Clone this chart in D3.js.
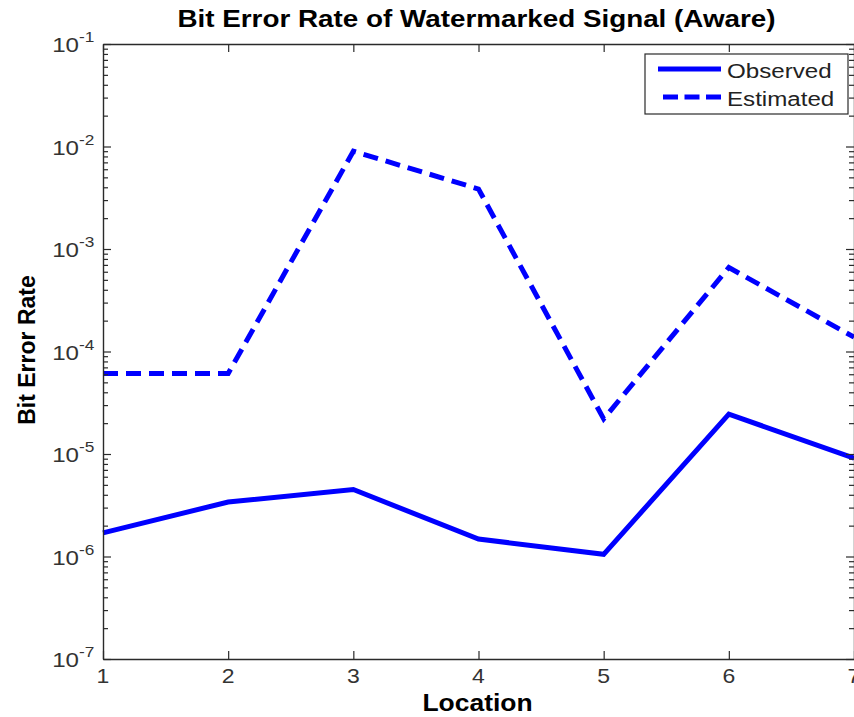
<!DOCTYPE html>
<html>
<head>
<meta charset="utf-8">
<script src="https://cdn.jsdelivr.net/npm/d3@7"></script>
<style>
  html, body { margin: 0; padding: 0; background: #fff; }
  svg { display: block; }
  text { font-family: "Liberation Sans", Arial, Helvetica, sans-serif; }
</style>
</head>
<body>
<svg id="chart" width="854" height="717"></svg>
<script>
// Bit error rate per measurement location
const locations = [1, 2, 3, 4, 5, 6, 7];
const observed  = [1.7e-6, 3.4e-6, 4.5e-6, 1.48e-6, 1.05e-6, 2.45e-5, 9.1e-6];
const estimated = [6.1e-5, 6.1e-5, 9.0e-3, 3.85e-3, 2.2e-5, 6.6e-4, 1.38e-4];

// Axis ticks
const xTicks = [1, 2, 3, 4, 5, 6, 7];
const yExponents = [-7, -6, -5, -4, -3, -2, -1];
const minorMultipliers = [2, 3, 4, 5, 6, 7, 8, 9];

const titleText = "Bit Error Rate of Watermarked Signal (Aware)";
const xLabelText = "Location";
const yLabelText = "Bit Error Rate";
const seriesNames = ["Observed", "Estimated"];

const svg = d3.select("#chart");
const W = 854, H = 717;
const plot = { left: 103, right: 854, top: 44, bottom: 659 };
const axisColor = "#2a2a2a";
const lineColor = "#0000ff";
const stretch = 1.15; // horizontal glyph stretch of the typeface

const x = d3.scaleLinear().domain([1, 7]).range([plot.left, plot.right]);
const y = d3.scaleLog().domain([1e-7, 1e-1]).range([plot.bottom, plot.top]);

svg.append("rect").attr("width", W).attr("height", H).attr("fill", "#fff");

// helper for horizontally stretched text
function label(g, str, px, py, opts) {
  const t = g.append("text")
    .attr("transform", `translate(${px},${py}) scale(${opts.stretch || stretch},1)`)
    .attr("text-anchor", opts.anchor || "middle")
    .attr("font-size", opts.size)
    .attr("font-weight", opts.weight || "normal")
    .attr("fill", opts.color || "#000")
    .text(str);
  return t;
}

// data lines
const lineGen = d3.line()
  .x((d, i) => x(locations[i]))
  .y(d => y(d));

svg.append("path")
  .datum(observed)
  .attr("d", lineGen)
  .attr("fill", "none")
  .attr("stroke", lineColor)
  .attr("stroke-width", 5);

svg.append("path")
  .datum(estimated)
  .attr("d", lineGen)
  .attr("fill", "none")
  .attr("stroke", lineColor)
  .attr("stroke-width", 5)
  .attr("stroke-dasharray", "15,8");

// axes (ticks point inward, all four sides)
const minorValues = [];
yExponents.slice(0, -1).forEach(e => minorMultipliers.forEach(m => minorValues.push(m * Math.pow(10, e))));
const decadeValues = yExponents.map(e => Math.pow(10, e));

function styleAxis(g) {
  g.selectAll("path.domain").attr("stroke", axisColor).attr("stroke-width", 1.4);
  g.selectAll(".tick line").attr("stroke", axisColor).attr("stroke-width", 1.2);
  g.selectAll(".tick text").remove();
}

svg.append("g").attr("transform", `translate(0,${plot.bottom})`)
  .call(d3.axisBottom(x).tickValues(xTicks).tickSize(-8).tickSizeOuter(0))
  .call(styleAxis);
svg.append("g").attr("transform", `translate(0,${plot.top})`)
  .call(d3.axisTop(x).tickValues(xTicks).tickSize(-8).tickSizeOuter(0))
  .call(styleAxis);

svg.append("g").attr("transform", `translate(${plot.left},0)`)
  .call(d3.axisLeft(y).tickValues(decadeValues).tickSize(-8).tickSizeOuter(0))
  .call(styleAxis);
svg.append("g").attr("transform", `translate(${plot.left},0)`)
  .call(d3.axisLeft(y).tickValues(minorValues).tickSize(-5).tickSizeOuter(0))
  .call(g => { styleAxis(g); g.select("path.domain").remove(); });

svg.append("g").attr("transform", `translate(${plot.right},0)`)
  .call(d3.axisRight(y).tickValues(decadeValues).tickSize(-8).tickSizeOuter(0))
  .call(styleAxis);
svg.append("g").attr("transform", `translate(${plot.right},0)`)
  .call(d3.axisRight(y).tickValues(minorValues).tickSize(-5).tickSizeOuter(0))
  .call(g => { styleAxis(g); g.select("path.domain").remove(); });

// tick labels
const labels = svg.append("g");
xTicks.forEach(v => {
  label(labels, String(v), x(v), plot.bottom + 24, { size: 20, color: "#333" });
});
yExponents.forEach(e => {
  const py = y(Math.pow(10, e));
  label(labels, "10", 79, py + 8, { size: 21, anchor: "end", color: "#333" });
  label(labels, String(e), 79, py - 2, { size: 15, anchor: "start", color: "#333" });
});

// titles
label(svg, titleText, (plot.left + plot.right) / 2 - 2, 27, { size: 23, weight: "bold", stretch: 1.21 });
label(svg, xLabelText, (plot.left + plot.right) / 2 - 1, 711, { size: 23, weight: "bold" });
svg.append("text")
  .attr("transform", `translate(35,350) rotate(-90)`)
  .attr("text-anchor", "middle")
  .attr("font-size", 23)
  .attr("font-weight", "bold")
  .text(yLabelText);

// legend
const lg = svg.append("g");
lg.append("rect")
  .attr("x", 645).attr("y", 54).attr("width", 203).attr("height", 60)
  .attr("fill", "#fff").attr("stroke", axisColor).attr("stroke-width", 1.2);
lg.append("line").attr("x1", 658).attr("x2", 721).attr("y1", 69).attr("y2", 69)
  .attr("stroke", lineColor).attr("stroke-width", 5);
lg.append("line").attr("x1", 663).attr("x2", 721).attr("y1", 97).attr("y2", 97)
  .attr("stroke", lineColor).attr("stroke-width", 5).attr("stroke-dasharray", "15,6.5");
label(lg, seriesNames[0], 727, 78, { size: 21, anchor: "start", color: "#222" });
label(lg, seriesNames[1], 727, 106, { size: 21, anchor: "start", color: "#222" });
</script>
</body>
</html>
